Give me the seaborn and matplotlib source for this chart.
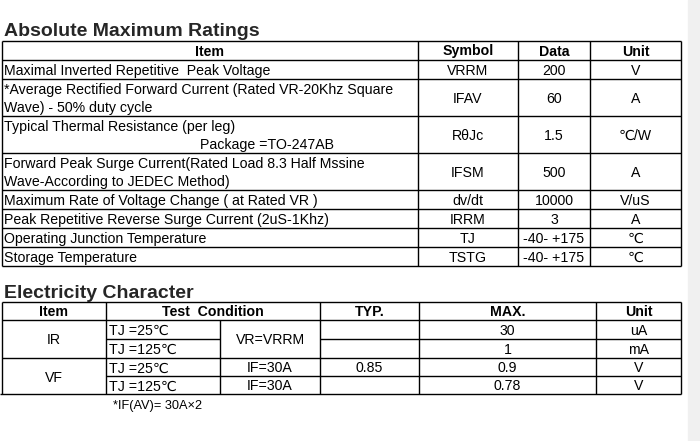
import matplotlib
matplotlib.use("Agg")
import matplotlib.pyplot as plt
import seaborn as sns

sns.set_style("white")
plt.rcParams['font.family'] = ['Liberation Sans', 'DejaVu Sans']

# ---- data ----
amr_headers = ["Item", "Symbol", "Data", "Unit"]
amr_items = [
    ["Maximal Inverted Repetitive  Peak Voltage"],
    ["*Average Rectified Forward Current (Rated VR-20Khz Square", "Wave) - 50% duty cycle"],
    ["Typical Thermal Resistance (per leg)", "Package =TO-247AB"],
    ["Forward Peak Surge Current(Rated Load 8.3 Half Mssine", "Wave-According to JEDEC Method)"],
    ["Maximum Rate of Voltage Change ( at Rated VR )"],
    ["Peak Repetitive Reverse Surge Current (2uS-1Khz)"],
    ["Operating Junction Temperature"],
    ["Storage Temperature"],
]
amr_symbols = ["VRRM", "IFAV", "RθJc", "IFSM", "dv/dt", "IRRM", "TJ", "TSTG"]
amr_data = ["200", "60", "1.5", "500", "10000", "3", "-40- +175", "-40- +175"]
amr_units = ["V", "A", "℃/W", "A", "V/uS", "A", "℃", "℃"]

ec_headers = ["Item", "Test  Condition", "TYP.", "MAX.", "Unit"]
ec_items = ["IR", "VF"]
ec_tj = ["TJ =25℃", "TJ =125℃", "TJ =25℃", "TJ =125℃"]
ec_cond = ["VR=VRRM", "IF=30A", "IF=30A"]
ec_typ = ["", "", "0.85", ""]
ec_max = ["30", "1", "0.9", "0.78"]
ec_unit = ["uA", "mA", "V", "V"]
footnote = "*IF(AV)= 30A×2"

# ---- layout ----
fig = plt.figure(figsize=(7.0, 4.41), dpi=100)
ax = fig.add_axes([0, 0, 1, 1])
ax.set_xlim(0, 700)
ax.set_ylim(441, 0)
ax.axis("off")
fs = 10.2
lw = 1.0
dy = 1.5

def hl(y, x0, x1):
    ax.plot([x0, x1], [y, y], color="black", lw=lw, solid_capstyle="butt")

def vl(x, y0, y1):
    ax.plot([x, x], [y0, y1], color="black", lw=lw, solid_capstyle="butt")

def t(x, y, s, ha="center", bold=False, size=fs):
    ax.text(x, y + dy, s, ha=ha, va="center", fontsize=size,
            fontweight="bold" if bold else "normal", color="black")

# Table 1
ax.text(4, 31, "Absolute Maximum Ratings", fontsize=14, fontweight="bold",
        ha="left", va="center")
L, R = 2, 681
cols = [L, 418, 518, 590, R]
rows = [41, 60, 79, 116, 153, 190, 209, 228, 247, 266]
for y in rows:
    hl(y, L, R)
for x in cols:
    vl(x, rows[0], rows[-1])
centers = [(cols[i] + cols[i + 1]) / 2 for i in range(4)]
for c, h in zip(centers, amr_headers):
    t(c, 50, h, bold=True)
for i in range(len(amr_items)):
    y0, y1 = rows[i + 1], rows[i + 2]
    ym = (y0 + y1) / 2
    lines = amr_items[i]
    if len(lines) == 1:
        t(4, ym, lines[0], ha="left")
    else:
        x2 = 200 if i == 2 else 4
        t(4, y0 + 9.5, lines[0], ha="left")
        t(x2, y0 + 27.5, lines[1], ha="left")
    t(centers[1], ym, amr_symbols[i])
    t(centers[2], ym, amr_data[i])
    t(centers[3], ym, amr_units[i])

# Table 2
ax.text(4, 293, "Electricity Character", fontsize=14, fontweight="bold",
        ha="left", va="center")
c2 = [L, 106, 220, 320, 419, 596, R]
r2 = [302, 320, 339, 358, 376, 394]
hl(r2[0], L, R)
hl(r2[1], L, R)
hl(r2[3], L, R)
hl(r2[5], 0, R)
hl(r2[2], c2[1], c2[2])
hl(r2[2], c2[3], R)
hl(r2[4], c2[1], R)
for x in [c2[0], c2[1], c2[3], c2[4], c2[5], c2[6]]:
    vl(x, r2[0], r2[5])
vl(c2[2], r2[1], r2[5])
hx = [(c2[0] + c2[1]) / 2, (c2[1] + c2[3]) / 2, (c2[3] + c2[4]) / 2,
      (c2[4] + c2[5]) / 2, (c2[5] + c2[6]) / 2]
for c, h in zip(hx, ec_headers):
    t(c, 311, h, bold=True)
t(hx[0], r2[2], ec_items[0])
t(hx[0], r2[4], ec_items[1])
for i in range(4):
    ym = (r2[i + 1] + r2[i + 2]) / 2
    t(c2[1] + 3, ym, ec_tj[i], ha="left")
    t(hx[2], ym, ec_typ[i])
    t(hx[3], ym, ec_max[i])
    t(hx[4], ym, ec_unit[i])
ccx = (c2[2] + c2[3]) / 2
t(ccx, r2[2], ec_cond[0])
t(ccx, (r2[3] + r2[4]) / 2, ec_cond[1])
t(ccx, (r2[4] + r2[5]) / 2, ec_cond[2])
t(113, 404, footnote, ha="left", size=9.2)

ax.add_patch(plt.Rectangle((688, 0), 12, 441, color="#f0f0f0", zorder=0))

fig.savefig("out.png", dpi=100)
